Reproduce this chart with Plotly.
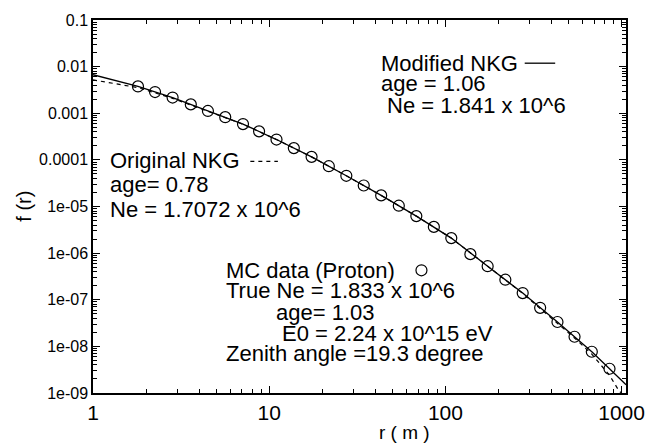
import plotly.graph_objects as go

# ---- data ----
mc_r = [1.80, 2.25, 2.83, 3.59, 4.49, 5.63, 7.10, 8.76,
        11.0, 13.8, 17.4, 21.8, 27.4, 34.4, 43.2, 54.4, 68.4, 86.0, 108.0,
        138.6, 173.7, 218.9, 274.6, 344.9, 432.5, 540.7, 677.6, 853.9]
mc_f = [3.76e-3, 2.85e-3, 2.17e-3, 1.55e-3, 1.12e-3, 8.24e-4, 5.86e-4, 4.09e-4,
        2.73e-4, 1.79e-4, 1.16e-4, 7.31e-5, 4.56e-5, 2.82e-5, 1.73e-5, 1.04e-5,
        6.22e-6, 3.65e-6, 2.10e-6,
        9.51e-7, 5.24e-7, 2.69e-7, 1.39e-7, 6.71e-8, 3.33e-8, 1.61e-8, 7.67e-9, 3.31e-9]

mod_r = [1.0, 1.80, 2.83, 4.49, 7.10, 11.0, 17.4, 27.4, 43.2, 68.4, 108.0,
         173.7, 274.6, 432.5, 677.6, 853.9, 1060.0]
mod_f = [6.7e-3, 3.76e-3, 2.17e-3, 1.12e-3, 5.86e-4, 2.73e-4, 1.16e-4, 4.56e-5,
         1.73e-5, 6.22e-6, 2.10e-6, 5.24e-7, 1.39e-7, 3.33e-8, 7.67e-9, 3.31e-9, 1.5e-9]

orig_r = [1.0, 1.80, 2.83, 4.49, 7.10, 11.0, 17.4, 27.4, 43.2, 68.4, 108.0,
          173.7, 274.6, 344.9, 540.7, 677.6, 853.9, 971.0, 1000.0]
orig_f = [5.2e-3, 3.55e-3, 2.09e-3, 1.10e-3, 5.82e-4, 2.73e-4, 1.16e-4, 4.56e-5,
          1.73e-5, 6.22e-6, 2.10e-6, 5.24e-7, 1.37e-7, 6.5e-8, 1.51e-8, 6.8e-9,
          2.4e-9, 1.08e-9, 1.0e-9]

x_ticks = [1, 10, 100, 1000]
x_ticktext = ["1", "10", "100", "1000"]
y_ticks = [1e-1, 1e-2, 1e-3, 1e-4, 1e-5, 1e-6, 1e-7, 1e-8, 1e-9]
y_ticktext = ["0.1", "0.01", "0.001", "0.0001", "1e-05", "1e-06", "1e-07", "1e-08", "1e-09"]

# ---- layout geometry ----
W, H = 657, 446
L, R, T, B = 93, 22, 13, 53
PW, PH = W - L - R, H - T - B
FONT = "Liberation Sans, Arial, sans-serif"


def px(xp):
    return (xp - L) / PW


def py(yp):
    return 1 - (yp - T) / PH


fig = go.Figure()
fig.add_trace(go.Scatter(x=mod_r, y=mod_f, mode="lines",
                         line=dict(color="black", width=1.3), showlegend=False))
fig.add_trace(go.Scatter(x=orig_r, y=orig_f, mode="lines",
                         line=dict(color="black", width=1.2, dash="4px,4px"), showlegend=False))
fig.add_trace(go.Scatter(x=mc_r, y=mc_f, mode="markers",
                         marker=dict(symbol="circle-open", size=11, color="black",
                                     line=dict(width=1.2)), showlegend=False))

axis_common = dict(type="log", showline=True, linecolor="black", linewidth=1.5,
                   mirror="ticks", ticks="inside", ticklen=7, tickwidth=1,
                   tickcolor="black", showgrid=False, zeroline=False,
                   minor=dict(dtick="D1", ticks="inside", ticklen=4,
                              tickcolor="black", showgrid=False))

fig.update_xaxes(range=[0, 3.025], tickvals=x_ticks, ticktext=x_ticktext,
                 tickfont=dict(family=FONT, size=21, color="black"), **axis_common)
fig.update_yaxes(range=[-9, -1], tickvals=y_ticks, ticktext=y_ticktext,
                 tickfont=dict(family=FONT, size=16, color="black"), **axis_common)

ann_font = dict(family=FONT, size=22, color="black")
texts = [
    ("Modified NKG", 384, 57),
    ("age = 1.06", 384, 78),
    (" Ne = 1.841 x 10^6", 384, 100),
    ("Original NKG", 108, 156),
    ("age= 0.78", 108, 181),
    ("Ne = 1.7072 x 10^6", 108, 206),
    ("MC data (Proton)", 226, 268),
    ("True Ne = 1.833 x 10^6", 226, 289),
    ("age= 1.03", 277, 311),
    ("E0 = 2.24 x 10^15 eV", 283, 332),
    ("Zenith angle =19.3 degree", 226, 353),
]
annotations = [dict(text=t, x=px(x0), y=py(y0), xref="paper", yref="paper",
                    xanchor="left", yanchor="middle", showarrow=False, font=ann_font)
               for t, x0, y0 in texts]
# axis titles
annotations.append(dict(text="r ( m )", x=px(410), y=py(433), xref="paper", yref="paper",
                        xanchor="center", yanchor="middle", showarrow=False,
                        font=dict(family=FONT, size=19, color="black")))
annotations.append(dict(text="f (r)", x=px(22), y=py(203), xref="paper", yref="paper",
                        xanchor="center", yanchor="middle", showarrow=False, textangle=-90,
                        font=dict(family=FONT, size=20, color="black")))

shapes = [
    dict(type="line", xref="paper", yref="paper", x0=px(532), x1=px(563),
         y0=py(57), y1=py(57), line=dict(color="black", width=1.3)),
    dict(type="line", xref="paper", yref="paper", x0=px(253), x1=px(281),
         y0=py(157), y1=py(157), line=dict(color="black", width=1.2, dash="4px,4px")),
    dict(type="circle", xref="paper", yref="paper", xsizemode="pixel", ysizemode="pixel",
         xanchor=px(427), yanchor=py(268), x0=-5.5, x1=5.5, y0=-5.5, y1=5.5,
         line=dict(color="black", width=1.2)),
]

fig.update_layout(width=W, height=H, margin=dict(l=L, r=R, t=T, b=B),
                  plot_bgcolor="white", paper_bgcolor="white",
                  annotations=annotations, shapes=shapes,
                  font=dict(family=FONT, color="black"))

fig.write_html("out.html")
